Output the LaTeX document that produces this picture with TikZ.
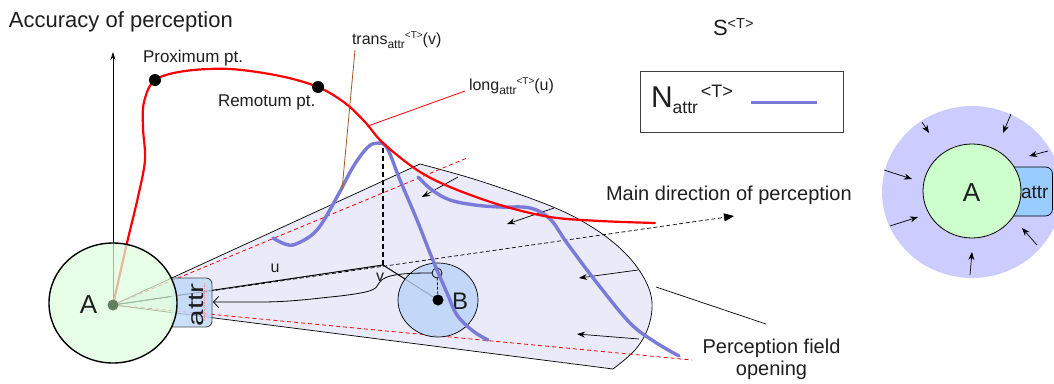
\documentclass[tikz,border=0pt]{standalone}
\usepackage{fontspec}
\setmainfont{Liberation Sans}
\usetikzlibrary{arrows.meta}
\definecolor{conefill}{RGB}{234,234,248}
\definecolor{agreen}{RGB}{220,255,220}
\definecolor{bblue}{RGB}{186,212,248}
\definecolor{nblue}{RGB}{122,122,216}
\definecolor{attrblue}{RGB}{190,216,250}
\definecolor{brownline}{RGB}{165,85,35}
\definecolor{dotgreen}{RGB}{96,128,96}
\definecolor{bigviolet}{RGB}{204,204,255}
\definecolor{rgreen}{RGB}{204,255,204}
\definecolor{rattr}{RGB}{153,204,255}
\definecolor{txt}{RGB}{30,30,30}
\newcommand{\fs}[1]{\fontsize{#1}{#1}\selectfont}
\begin{document}
\begin{tikzpicture}[x=1pt,y=-1pt,
  every node/.style={inner sep=0pt,outer sep=0pt,text=txt},
  redcurve/.style={red,line width=2.2pt,line cap=round},
  ncurve/.style={nblue,line width=3.4pt,line cap=round},
  inarrow/.style={-{Stealth[length=8pt,width=6pt]},line width=0.7pt},
  reddash/.style={red,dashed,line width=0.8pt,dash pattern=on 4pt off 3pt},
  thinline/.style={line width=0.7pt}]
\useasboundingbox (0,0) rectangle (1054,383);

% key points
\coordinate (Ac) at (113,305);
\coordinate (Top) at (420,164);
\coordinate (Bot) at (613,369);
\coordinate (V) at (383,265);
\coordinate (Peak) at (383,143);
\coordinate (Dir) at (734,216);
\coordinate (Bc) at (438,300);
\coordinate (AxTop) at (113,52);
\coordinate (RdU) at (467,158);
\coordinate (RdL) at (692,360);
\coordinate (AttrE) at (213,302);

% title
\node[anchor=base west] (title) at (9,27) {\fs{22}Accuracy of perception};

% perception field
\draw[fill=conefill,thinline] (Ac) -- plot[smooth,tension=0.6] coordinates
  {(420,164) (480,181) (553,207) (595,229) (625,253) (644,278) (652,302) (648,328) (635,350) (613,369)} -- cycle;

% red dashed opening lines
\draw[reddash] (Ac) -- (RdU);
\draw[reddash] (Ac) -- (RdL);

% axis
\draw[-{Stealth[length=8pt,width=5pt]},thinline] (Ac) -- (AxTop);

% main direction
\draw[dashed,dash pattern=on 4pt off 2.5pt,thinline,-{Triangle[length=10pt,width=8pt]}] (Ac) -- (Dir);
\draw[line width=1pt] (Ac) -- (V);
\draw[dashed,line width=1.1pt,dash pattern=on 5pt off 3pt] (V) -- (Peak);
\draw[line width=1pt] (V) -- (Bc);

% inward arrows in the field
\coordinate (f1s) at (458,177); \coordinate (f1e) at (422,197);
\coordinate (f2s) at (554,208); \coordinate (f2e) at (507,224);
\coordinate (f3s) at (638,270); \coordinate (f3e) at (579,278);
\coordinate (f4s) at (639,339); \coordinate (f4e) at (577,334);
\draw[inarrow] (f1s) -- (f1e);
\draw[inarrow] (f2s) -- (f2e);
\draw[inarrow] (f3s) -- (f3e);
\draw[inarrow] (f4s) -- (f4e);

% B
\draw[fill=bblue,fill opacity=0.8,thinline] (Bc) ellipse [x radius=40pt,y radius=37pt];
\node[draw,circle,minimum size=10pt,line width=0.8pt] (Bs) at (437,273) {};
\draw[dashed,line width=0.8pt,dash pattern=on 2.5pt off 2pt] (Bs) -- (Bc);
\fill (Bc) circle [radius=5.5pt];
\node (Blbl) at (460,301.5) {\fs{24}B};

% return arrow to attr
\draw[line width=0.8pt,-{Straight Barb[length=5pt,width=11pt]}] (Bs.west) .. controls (405,273) and (384,274) .. (379,283)
   .. controls (376,290) and (372,292) .. (340,296)
   .. controls (310,299) and (290,302) .. (260,302) -- (AttrE);

% blue N curves
\draw[ncurve] plot[smooth,tension=0.6] coordinates
  {(273,238) (285,244) (296,244) (317,230) (337,197) (353,167) (367,148) (377,143) (387,148) (400,180) (417,220) (432,258) (447,293) (457,315) (473,331) (488,340)};
\draw[ncurve] plot[smooth,tension=0.6] coordinates
  {(418,177) (432,190) (450,200) (475,205) (500,207) (530,208) (550,219) (567,243) (597,283) (630,323) (655,342) (679,356)};

% red accuracy curve
\draw[redcurve] plot[smooth,tension=0.55] coordinates
  {(113,305) (127,243) (138,197) (145,160) (143,128) (144,102) (155,80) (185,71) (230,69) (280,76) (318,87) (345,103) (365,122) (383,143) (417,170) (450,187) (500,205) (550,217) (600,221) (655,223)};
\fill (155,80) circle [radius=6pt];
\fill (318,87) circle [radius=6pt];
\node[anchor=base west] (prox) at (143,62) {\fs{17}Proximum pt.};
\node[anchor=base west] (remo) at (218,106) {\fs{17}Remotum pt.};

% trans / long labels
\node[anchor=base west] (trans) at (352,44) {\fs{16}trans\raisebox{-4pt}{\fs{12}attr}\raisebox{6pt}{\fs{10}<T>}(v)};
\node[anchor=base west] (long) at (469,90) {\fs{16}long\raisebox{-4pt}{\fs{12}attr}\raisebox{6pt}{\fs{10}<T>}(u)};
\coordinate (tr1) at (355,50); \coordinate (tr2) at (342,190);
\coordinate (lo1) at (465,91); \coordinate (lo2) at (368,126);
\draw[brownline,line width=0.8pt] (tr1) -- (tr2);
\draw[red,line width=0.8pt] (lo1) -- (lo2);

% u, v
\node (ulbl) at (275,268) {\fs{16}u};
\node (vlbl) at (380,277) {\fs{16}v};

% attr box (left) and A
\draw[fill=attrblue,fill opacity=0.8,draw=black!70,line width=0.9pt,rounded corners=6pt]
  (171,278) -- (212,278) -- (212,327) -- (171,327);
\draw[red!45,densely dotted,line width=0.7pt] (204,283) -- (204,322);
\node[rotate=90] (attrL) at (196,305) {\fs{22}\scalebox{1.35}[1]{attr}};
\draw[fill=agreen,fill opacity=0.72,line width=1.4pt] (113,303) ellipse [x radius=64pt,y radius=60pt];
\fill[dotgreen] (Ac) circle [radius=5.5pt];
\node (Albl) at (88.5,304.5) {\fs{26}A};

% S<T>
\node[anchor=base west] (S) at (713,35) {\fs{22}S\raisebox{7pt}{\fs{14.5}<T>}};

% legend
\draw[line width=0.9pt,draw=black!75] (640,71) rectangle (843,132);
\node[anchor=base west] (N) at (651,107) {\fs{30}N\raisebox{-6pt}{\fs{17.5}attr}\hspace{3pt}\raisebox{10pt}{\fs{18}<T>}};
\coordinate (lg1) at (751,102); \coordinate (lg2) at (817,102);
\draw[nblue,line width=3pt] (lg1) -- (lg2);

% texts right
\node[anchor=base west] (maindir) at (606,200) {\fs{20}Main direction of perception};
\node[anchor=base] (pf1) at (771.5,353) {\fs{20}Perception field};
\node[anchor=base] (pf2) at (771.5,375) {\fs{20}opening};
\coordinate (pt1) at (656,287); \coordinate (pt2) at (766,324);
\draw[thinline] (pt1) -- (pt2);

% right figure
\begin{scope}
\clip (0,0) rectangle (1054,383);
\fill[bigviolet] (972,192) ellipse [x radius=90pt,y radius=86pt];
\end{scope}
\draw[fill=rattr,line width=0.7pt,rounded corners=7pt] (1005,167) -- (1052.5,167) -- (1052.5,216) -- (1005,216);
\draw[fill=rgreen,line width=0.8pt] (972,191) ellipse [x radius=49pt,y radius=47pt];
\node (A2) at (971.5,192.5) {\fs{26}A};
\node[anchor=base west] (attr2) at (1021,198) {\fs{19}attr};
\coordinate (r1s) at (922,122);  \coordinate (r1e) at (929,133);
\coordinate (r2s) at (1011,114); \coordinate (r2e) at (1003,133);
\coordinate (r3s) at (1048,151); \coordinate (r3e) at (1029,156);
\coordinate (r4s) at (884,170);  \coordinate (r4e) at (912,179);
\coordinate (r5s) at (890,226);  \coordinate (r5e) at (918,217);
\coordinate (r6s) at (970,275);  \coordinate (r6e) at (972,252);
\coordinate (r7s) at (1037,245); \coordinate (r7e) at (1022,228);
\foreach \i in {1,...,7} {\draw[inarrow] (r\i s) -- (r\i e);}
\end{tikzpicture}
\end{document}
